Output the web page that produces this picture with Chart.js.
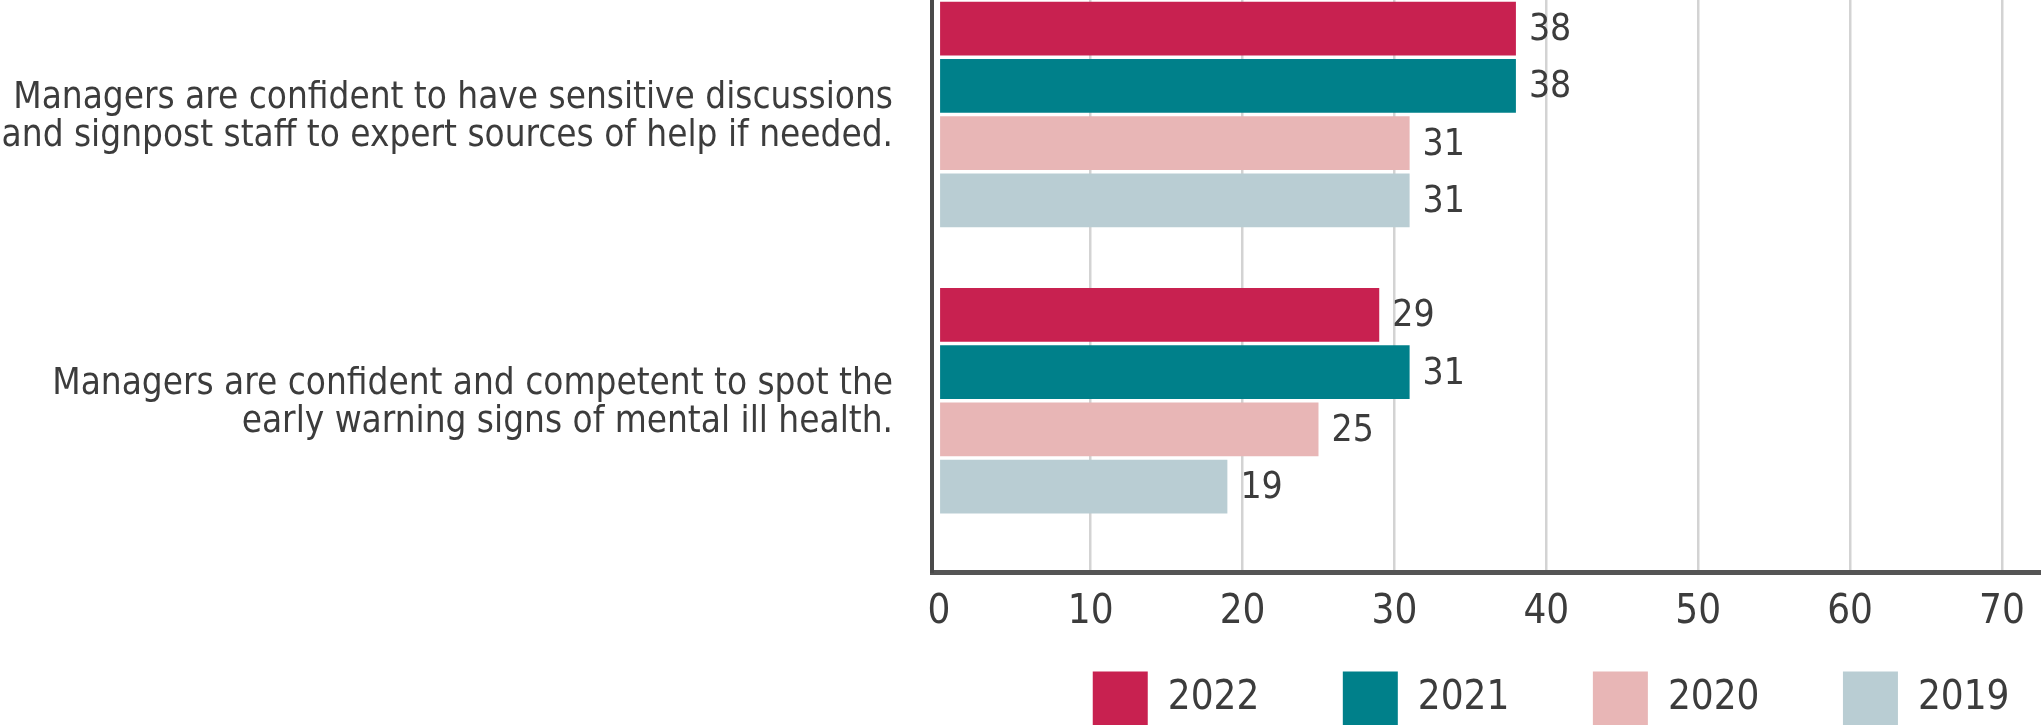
<!DOCTYPE html>
<html>
<head>
<meta charset="utf-8">
<script src="https://cdn.jsdelivr.net/npm/chart.js@4.4.1/dist/chart.umd.min.js"></script>
<style>
  html, body { margin: 0; padding: 0; background: #ffffff; overflow: hidden; width: 2041px; height: 725px; }
  canvas { display: block; }
</style>
</head>
<body>
<canvas id="chart" width="2093" height="801"></canvas>
<script>
// ---- data ----
const categories = [
  ['Managers are confident to have sensitive discussions', 'and signpost staff to expert sources of help if needed.'],
  ['Managers are confident and competent to spot the', 'early warning signs of mental ill health.']
];
const seriesNames = ['2022', '2021', '2020', '2019'];
const values2022 = [38, 29];
const values2021 = [38, 31];
const values2020 = [31, 25];
const values2019 = [31, 19];
const xTickValues = [0, 10, 20, 30, 40, 50, 60, 70];

// ---- styles ----
const seriesColors = ['#C82150', '#00808A', '#E8B6B6', '#B9CDD3'];
const FONT = "'DejaVu Sans Condensed', 'DejaVu Sans', sans-serif";
const TEXT = '#3c3c3c';

const seriesValues = [values2022, values2021, values2020, values2019];
const datasets = seriesNames.map((name, i) => ({
  label: name,
  data: seriesValues[i],
  backgroundColor: seriesColors[i],
  borderWidth: 0,
  categoryPercentage: 1.0,
  barPercentage: 0.935
}));
// empty spacer slot below each group (keeps the group in the upper part of its band)
datasets.push({
  label: '',
  isSpacer: true,
  data: categories.map(() => null),
  backgroundColor: 'rgba(0,0,0,0)',
  categoryPercentage: 1.0,
  barPercentage: 0.935
});

const valueLabels = {
  id: 'valueLabels',
  afterDatasetsDraw(chart) {
    const ctx = chart.ctx;
    ctx.save();
    ctx.font = '37px ' + FONT;
    ctx.fillStyle = TEXT;
    ctx.textAlign = 'left';
    ctx.textBaseline = 'middle';
    chart.data.datasets.forEach((ds, i) => {
      if (ds.isSpacer) return;
      chart.getDatasetMeta(i).data.forEach((bar, j) => {
        const v = ds.data[j];
        if (v === null || v === undefined) return;
        ctx.fillText(String(v), bar.x + 13, bar.y + 2);
      });
    });
    ctx.restore();
  }
};

// keep the legend row close under the axis labels
const legendPlacement = {
  id: 'legendPlacement',
  afterLayout(chart) {
    const lg = chart.legend;
    if (!lg) return;
    const h = lg.height;
    lg.top = chart.chartArea.bottom + 15.5;
    lg.bottom = lg.top + h;
  }
};

Chart.defaults.font.family = FONT;
Chart.defaults.color = TEXT;

new Chart(document.getElementById('chart'), {
  type: 'bar',
  data: { labels: categories, datasets },
  options: {
    indexAxis: 'y',
    responsive: false,
    animation: false,
    layout: { padding: 0 },
    plugins: {
      tooltip: { enabled: false },
      legend: {
        position: 'bottom',
        align: 'end',
        labels: {
          boxWidth: 55,
          boxHeight: 55,
          padding: 83.5,
          color: TEXT,
          font: { size: 40 },
          filter: (item, data) => !data.datasets[item.datasetIndex].isSpacer
        }
      }
    },
    scales: {
      x: {
        type: 'linear',
        min: -0.45,
        max: 76,
        afterBuildTicks: (scale) => { scale.ticks = xTickValues.map(v => ({ value: v })); },
        grid: {
          color: (c) => (c.tick && c.tick.value === 0) ? 'rgba(0,0,0,0)' : '#d3d3d3',
          lineWidth: 2.5,
          drawTicks: false
        },
        border: { color: '#555555', width: 5 },
        ticks: {
          padding: 16,
          color: TEXT,
          font: { size: 40 },
          maxRotation: 0,
          autoSkip: false
        }
      },
      y: {
        afterFit: (scale) => { scale.width = 932; scale.paddingTop = 0; scale.paddingBottom = 0; },
        grid: { display: false, drawTicks: false },
        border: { color: '#4a4a4a', width: 4 },
        ticks: {
          padding: 39,
          labelOffset: -26,
          color: TEXT,
          font: { size: 36.6, lineHeight: 1.04 },
          autoSkip: false
        }
      }
    }
  },
  plugins: [valueLabels, legendPlacement]
});
</script>
</body>
</html>
